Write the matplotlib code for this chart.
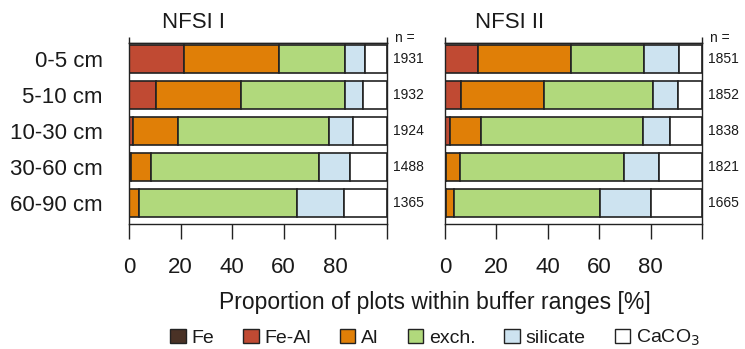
import matplotlib
matplotlib.use("Agg")
import matplotlib.pyplot as plt
from matplotlib.patches import Patch

plt.rcParams['font.family'] = ['Liberation Sans', 'DejaVu Sans']

# Soil depth layers (rows, top to bottom)
depths = ["0-5 cm", "5-10 cm", "10-30 cm", "30-60 cm", "60-90 cm"]

# Number of plots per depth layer
n_nfsi1 = [1931, 1932, 1924, 1488, 1365]
n_nfsi2 = [1851, 1852, 1838, 1821, 1665]

# Buffer range classes
classes = ["Fe", "Fe-Al", "Al", "exch.", "silicate", "CaCO$_3$"]
class_colors = ["#4a3226", "#c04a33", "#e07f07", "#b1d97c", "#cde3f0", "#ffffff"]

# NFSI I: proportion of plots per buffer range [%]
nfsi1_fe = [0.0, 0.0, 0.0, 0.0, 0.0]
nfsi1_feal = [21.3, 10.5, 1.6, 0.6, 0.0]
nfsi1_al = [37.0, 33.1, 17.3, 7.9, 4.0]
nfsi1_exch = [25.5, 40.2, 58.7, 65.2, 61.1]
nfsi1_silicate = [7.8, 7.1, 9.3, 11.9, 18.2]
nfsi1_caco3 = [8.4, 9.1, 13.1, 14.4, 16.7]

# NFSI II: proportion of plots per buffer range [%]
nfsi2_fe = [0.0, 0.0, 0.0, 0.4, 0.4]
nfsi2_feal = [12.8, 6.3, 1.8, 0.0, 0.0]
nfsi2_al = [36.3, 32.2, 12.2, 5.3, 3.2]
nfsi2_exch = [28.5, 42.4, 62.9, 63.9, 56.6]
nfsi2_silicate = [13.3, 9.6, 10.5, 13.6, 19.8]
nfsi2_caco3 = [9.1, 9.5, 12.6, 16.8, 20.0]

panels = [
    ("NFSI I", [nfsi1_fe, nfsi1_feal, nfsi1_al, nfsi1_exch, nfsi1_silicate, nfsi1_caco3], n_nfsi1),
    ("NFSI II", [nfsi2_fe, nfsi2_feal, nfsi2_al, nfsi2_exch, nfsi2_silicate, nfsi2_caco3], n_nfsi2),
]

W, H = 745, 349
fig = plt.figure(figsize=(W / 100, H / 100), dpi=100)

edge = "#222222"
axes_px = [(129, 43, 257.7, 181), (445, 43, 257.0, 181)]

for i, ((title, series, nvals), (x0, y0, w, h)) in enumerate(zip(panels, axes_px)):
    ax = fig.add_axes([x0 / W, 1 - (y0 + h) / H, w / W, h / H])
    ypos = list(range(len(depths)))
    left = [0.0] * len(depths)
    for vals, col in zip(series, class_colors):
        ax.barh(ypos, vals, left=left, height=0.8, color=col,
                edgecolor=edge, linewidth=1.2, zorder=2)
        left = [a + b for a, b in zip(left, vals)]

    ax.set_xlim(0, 100)
    ax.set_ylim(4.583, -0.444)
    ax.set_xticks([0, 20, 40, 60, 80, 100])
    ax.set_xticklabels(["0", "20", "40", "60", "80", ""])
    ax.tick_params(axis="x", direction="out", length=11, width=1.0,
                   color=edge, labelsize=16, pad=13, labelcolor="#1a1a1a")
    ax.set_yticks(ypos)
    if i == 0:
        ax.set_yticklabels(depths)
        ax.tick_params(axis="y", length=0, pad=19, labelsize=16, labelcolor="#1a1a1a")
    else:
        ax.set_yticklabels([])
        ax.tick_params(axis="y", length=0)
    for sp in ax.spines.values():
        sp.set_color(edge)
        sp.set_linewidth(1.0)

    # End ticks on the top axis
    top = ax.secondary_xaxis("top")
    top.set_xticks([0, 100])
    top.set_xticklabels(["", ""])
    top.tick_params(direction="out", length=4, width=1.0, color=edge)
    top.spines["top"].set_color(edge)
    top.spines["top"].set_linewidth(1.0)

    ax.text(0.25, 1 + 15 / h, title, transform=ax.transAxes, ha="center",
            va="baseline", fontsize=16, color="#1a1a1a")

    # Sample sizes to the right of each bar
    tr = ax.get_yaxis_transform()
    for y, n in zip(ypos, nvals):
        ax.text(1 + 6 / w, y, str(n), transform=tr, ha="left", va="center",
                fontsize=10, color="#1a1a1a")
    ax.text(1 + 8 / w, 1 + 5 / h, "n =", transform=ax.transAxes, ha="left",
            va="center", fontsize=10, color="#1a1a1a")

fig.text(435 / W, 1 - 303 / H, "Proportion of plots within buffer ranges [%]",
         ha="center", va="center", fontsize=16.5, color="#1a1a1a")

handles = [Patch(facecolor=c, edgecolor=edge, linewidth=1.0) for c in class_colors]
leg = fig.legend(handles, classes, loc="center", bbox_to_anchor=(435 / W, 1 - 338 / H),
                 ncol=6, frameon=False, fontsize=14, handlelength=0.78,
                 handleheight=0.78, handletextpad=0.3, columnspacing=1.5,
                 borderpad=0.0)
for t in leg.get_texts():
    t.set_color("#1a1a1a")

fig.savefig("out.png", dpi=100)
